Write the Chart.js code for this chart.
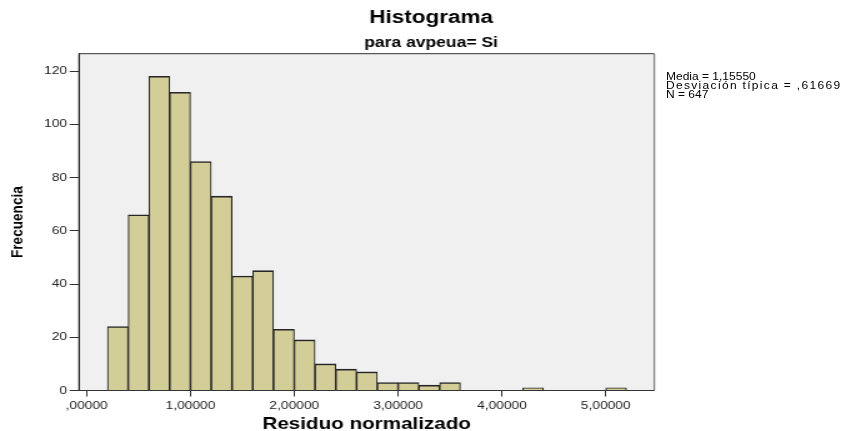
<!DOCTYPE html>
<html>
<head>
<meta charset="utf-8">
<script src="https://cdn.jsdelivr.net/npm/chart.js@4/dist/chart.umd.min.js"></script>
<style>
html,body{margin:0;padding:0;background:#fff;width:846px;height:431px;overflow:hidden;}
#wrap{position:absolute;left:0;top:0;width:677px;height:431px;transform:scaleX(1.24963);transform-origin:0 0;}
#stats{position:absolute;left:666px;top:71.5px;font-family:'Liberation Sans',Arial,sans-serif;font-size:10px;line-height:9px;color:#000;transform:scaleX(1.2);transform-origin:0 0;white-space:nowrap;}
#stats div.wide{letter-spacing:1.1px;}
</style>
</head>
<body>
<div id="wrap"><canvas id="c" width="677" height="431"></canvas></div>
<div id="stats"></div>
<script>
// ---- data ----
const binStarts = [0.2,0.4,0.6,0.8,1.0,1.2,1.4,1.6,1.8,2.0,2.2,2.4,2.6,2.8,3.0,3.2,3.4,3.6,3.8,4.0,4.2,4.4,4.6,4.8,5.0];
const counts    = [24, 66, 118,112, 86, 73, 43, 45, 23, 19, 10,  8,  7,  3,  3,  2,  3,  0,  0,  0,  1,  0,  0,  0,  1];
const binWidth = 0.2;
const xTickValues = [0,1,2,3,4,5];
const xTickLabels = [',00000','1,00000','2,00000','3,00000','4,00000','5,00000'];
const yTickValues = [0,20,40,60,80,100,120];
const titleText = 'Histograma';
const subtitleText = 'para avpeua= Si';
const xTitle = 'Residuo normalizado';
const yTitle = 'Frecuencia';
const statsLines = ['Media = 1,15550','Desviación típica = ,61669','N = 647'];

// ---- stats text ----
const st = document.getElementById('stats');
statsLines.forEach((t,i)=>{const d=document.createElement('div');d.textContent=t;if(i===1)d.className='wide';st.appendChild(d);});

const FONT = "'Liberation Sans', Arial, sans-serif";
Chart.defaults.font.family = FONT;
Chart.defaults.color = '#222';

const frame = {
  id:'frame',
  beforeDraw(chart){
    const {ctx, chartArea:a} = chart;
    ctx.save();
    ctx.fillStyle = '#f0f0f0';
    ctx.fillRect(a.left, a.top, a.right-a.left, a.bottom-a.top);
    ctx.restore();
  },
  afterDatasetsDraw(chart){
    const {ctx, chartArea:a} = chart;
    ctx.save();
    ctx.lineWidth = 1;
    ctx.strokeStyle = '#333';
    ctx.beginPath();
    ctx.moveTo(a.left, a.bottom); ctx.lineTo(a.left, a.top); ctx.lineTo(a.right, a.top);
    ctx.moveTo(a.left, a.bottom); ctx.lineTo(a.right, a.bottom);
    ctx.stroke();
    ctx.strokeStyle = '#808080';
    ctx.lineWidth = 1.3;
    ctx.beginPath();
    ctx.moveTo(a.right, a.top); ctx.lineTo(a.right, a.bottom);
    ctx.stroke();
    ctx.restore();
  }
};

new Chart(document.getElementById('c'), {
  type:'bar',
  data:{
    datasets:[{
      data: binStarts.map((s,i)=>({x: s + binWidth/2, y: counts[i]})),
      backgroundColor:'#d3ce98',
      borderColor:'#262626',
      borderWidth:{top:1.6,left:1.1,right:1.1,bottom:0},
      borderSkipped:'bottom',
      barPercentage:1,
      categoryPercentage:1
    }]
  },
  options:{
    responsive:false,
    animation:false,
    devicePixelRatio:1,
    layout:{padding:{left:13,right:0,top:0,bottom:0}},
    plugins:{
      legend:{display:false},
      tooltip:{enabled:false},
      title:{display:true,text:titleText,color:'#000',font:{size:18,weight:'bold',lineHeight:1.2},padding:{top:7.7,bottom:5.6}},
      subtitle:{display:true,text:subtitleText,color:'#000',font:{size:14,weight:'bold',lineHeight:1.2},padding:{top:0,bottom:2.0}}
    },
    scales:{
      x:{
        type:'linear',
        min:-0.074, max:5.468,
        offset:false,
        afterBuildTicks:s=>{s.ticks = xTickValues.map(v=>({value:v}));},
        afterFit:s=>{s.height = 40.5;},
        ticks:{callback:(v,i)=>xTickLabels[i],font:{size:11},color:'#222',padding:3,maxRotation:0,autoSkip:false},
        grid:{display:true,drawOnChartArea:false,drawTicks:true,tickLength:6,offset:false,color:'#333',tickColor:'#333',tickWidth:1},
        border:{display:true,color:'#333',width:1},
        title:{display:true,text:xTitle,color:'#000',font:{size:16.5,weight:'bold',lineHeight:1},padding:{top:0,bottom:-1.5}}
      },
      y:{
        min:0, max:126.5,
        afterBuildTicks:s=>{s.ticks = yTickValues.map(v=>({value:v}));},
        afterFit:s=>{s.width = 50.2;},
        ticks:{font:{size:11},color:'#222',padding:2},
        grid:{display:true,drawOnChartArea:false,drawTicks:true,tickLength:7.5,color:'#333',tickColor:'#333',tickWidth:1},
        border:{display:true,color:'#333',width:1},
        title:{display:true,text:yTitle,color:'#000',font:{size:13.6,weight:'bold',lineHeight:1},padding:{top:-5.6,bottom:0}}
      },
      yR:{
        position:'right',
        display:true,
        ticks:{display:false},
        grid:{display:false,drawTicks:false},
        border:{display:false},
        afterFit:s=>{s.width = 153.4;}
      }
    }
  },
  plugins:[frame]
});
</script>
</body>
</html>
